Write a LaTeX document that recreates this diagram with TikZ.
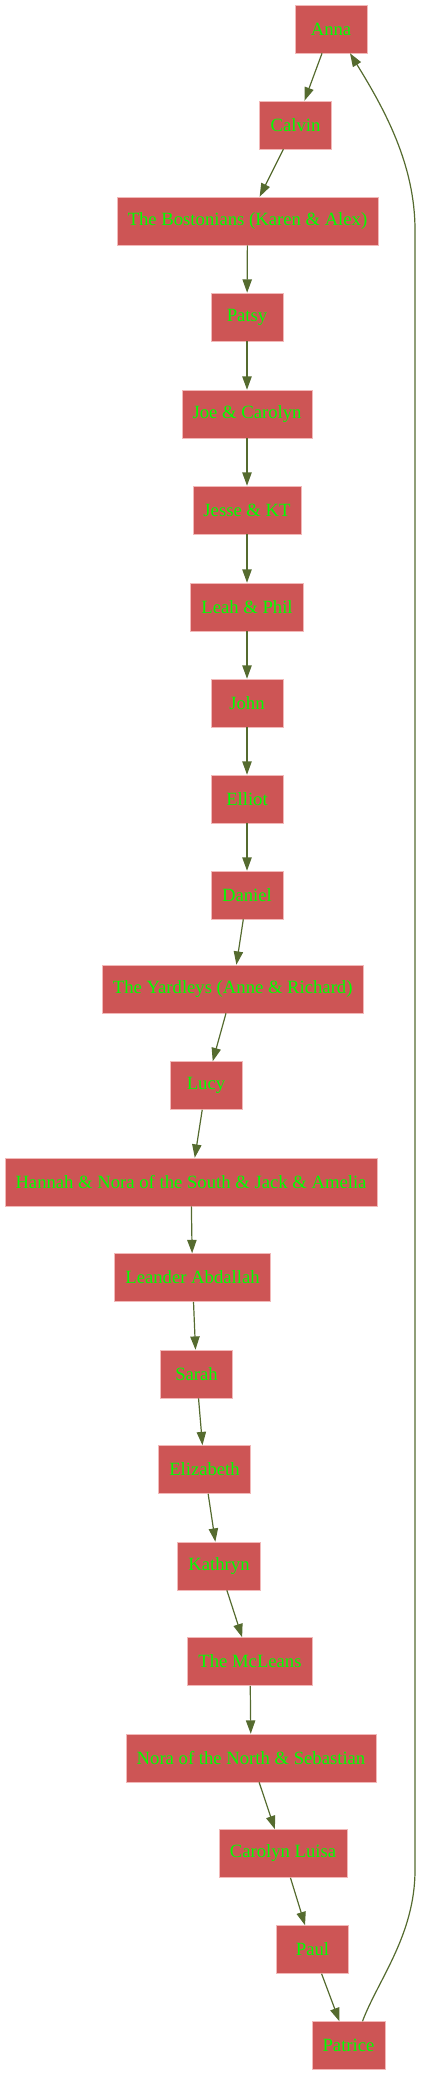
\documentclass[tikz,border=0pt]{standalone}
\usepackage{fontspec}
\setmainfont{Liberation Serif}
\usepackage{tikz}
\usetikzlibrary{arrows.meta}

\definecolor{boxred}{HTML}{CD5555}
\definecolor{boxline}{HTML}{F2B8B8}
\definecolor{edgegreen}{HTML}{556B2F}

\begin{document}
\begin{tikzpicture}[x=0.75pt, y=-0.75pt,
    every node/.style={draw=boxline, line width=0.4pt, fill=boxred, text=green,
      font=\fontsize{14pt}{16pt}\selectfont, minimum width=54pt, minimum height=36pt,
      inner xsep=8pt},
    edge/.style={-{Triangle[length=10pt, width=7pt]}, draw=edgegreen, line width=0.9pt}]
              \useasboundingbox (0,0) rectangle (421,2075);
              % Nodos
              \node (anna) at (331,29) {Anna};
              \node (calvin) at (295.5,125) {Calvin};
              \node (boston) at (247.5,221) {The Bostonians (Karen \& Alex)};
              \node (patsy) at (247,317) {Patsy};
              \node (joe) at (247,414) {Joe \& Carolyn};
              \node (jesse) at (247,510) {Jesse \& KT};
              \node (leah) at (247,607) {Leah \& Phil};
              \node (john) at (247,703) {John};
              \node (elliot) at (247,799) {Elliot};
              \node (daniel) at (247,895) {Daniel};
              \node (yardley) at (232.7,989) {The Yardleys (Anne \& Richard)};
              \node (lucy) at (206,1085.5) {Lucy};
              \node (hannah) at (191,1182) {Hannah \& Nora of the South \& Jack \& Amelia};
              \node (leander) at (192.5,1277.5) {Leander Abdallah};
              \node (sarah) at (196.5,1374) {Sarah};
              \node (elizabeth) at (204.5,1469.5) {Elizabeth};
              \node (kathryn) at (219,1566) {Kathryn};
              \node (mcleans) at (250,1661.5) {The McLeans};
              \node (nora) at (251,1758) {Nora of the North \& Sebastian};
              \node (luisa) at (283,1853.5) {Carolyn Luisa};
              \node (paul) at (312.5,1949.5) {Paul};
              \node (patrice) at (348.5,2045.5) {Patrice};

              % Aristas
              \draw[edge] (anna) -- (calvin);
              \draw[edge] (calvin) -- (boston);
              \draw[edge] (boston) -- (patsy);
              \draw[edge] (patsy) -- (joe);
              \draw[edge] (joe) -- (jesse);
              \draw[edge] (jesse) -- (leah);
              \draw[edge] (leah) -- (john);
              \draw[edge] (john) -- (elliot);
              \draw[edge] (elliot) -- (daniel);
              \draw[edge] (daniel) -- (yardley);
              \draw[edge] (yardley) -- (lucy);
              \draw[edge] (lucy) -- (hannah);
              \draw[edge] (hannah) -- (leander);
              \draw[edge] (leander) -- (sarah);
              \draw[edge] (sarah) -- (elizabeth);
              \draw[edge] (elizabeth) -- (kathryn);
              \draw[edge] (kathryn) -- (mcleans);
              \draw[edge] (mcleans) -- (nora);
              \draw[edge] (nora) -- (luisa);
              \draw[edge] (luisa) -- (paul);
              \draw[edge] (paul) -- (patrice);
              \draw[edge] ([xshift=10.5pt]patrice.north) .. controls (378,1980) and (415,1935) .. (415,1870)
                -- (415,230) .. controls (415,165) and (385,110) .. ([xshift=14.25pt]anna.south);
            \end{tikzpicture}
\end{document}
